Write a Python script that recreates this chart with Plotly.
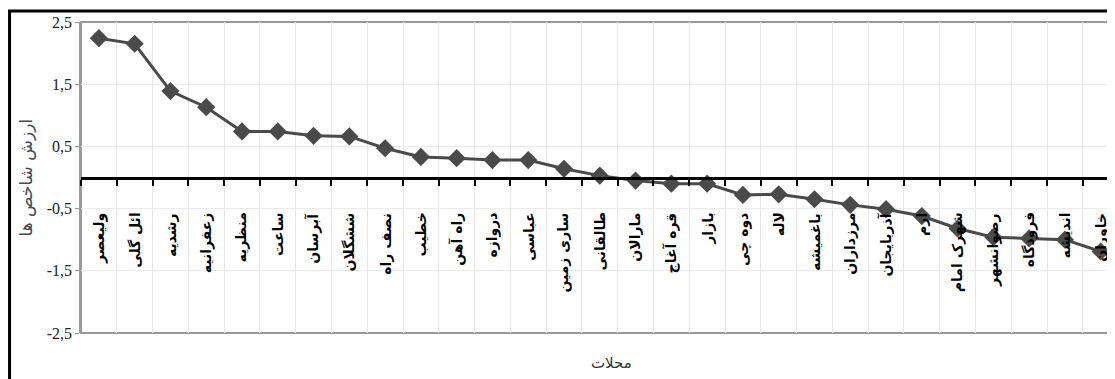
import plotly.graph_objects as go

neighborhoods = ["ولیعصر", "ائل گلی", "رشدیه", "زعفرانیه", "منظریه", "ساعت", "آبرسان", "ششگلان",
                 "نصف راه", "خطیب", "راه آهن", "دروازه", "عباسی", "ساری زمین", "طالقانی", "مارالان",
                 "قره آغاج", "بازار", "دوه چی", "لاله", "باغمیشه", "مرزداران", "آذربایجان", "ارم",
                 "شهرک امام", "رضوانشهر", "فرودگاه", "اندیشه", "خاوران"]
index_values = [2.24, 2.15, 1.39, 1.13, 0.74, 0.74, 0.67, 0.66,
                0.47, 0.33, 0.31, 0.28, 0.28, 0.14, 0.03, -0.05,
                -0.10, -0.10, -0.28, -0.27, -0.35, -0.44, -0.51, -0.62,
                -0.82, -0.96, -0.98, -1.00, -1.19]
y_tick_values = [2.5, 1.5, 0.5, -0.5, -1.5, -2.5]
y_tick_labels = ["2,5", "1,5", "0,5", "-0,5", "-1,5", "-2,5"]
x_title = "محلات"
y_title = "ارزش شاخص ها"

fig = go.Figure()
fig.add_trace(go.Scatter(
    x=neighborhoods, y=index_values, mode="lines+markers",
    line=dict(color="#4a4a4a", width=3),
    marker=dict(symbol="diamond", size=14, color="#4a4a4a"),
    hoverinfo="x+y", showlegend=False,
))

for name in neighborhoods:
    fig.add_annotation(
        x=name, y=-0.5, xref="x", yref="y", text=name, textangle=-90,
        yanchor="top", xanchor="center", yshift=-2, showarrow=False,
        font=dict(family="DejaVu Sans", size=14, color="black", weight="bold"),
    )

fig.add_annotation(xref="paper", yref="paper", x=0, y=0.5, xshift=-56, yshift=0,
                   xanchor="center", yanchor="middle", text=y_title,
                   textangle=-90, showarrow=False,
                   font=dict(family="DejaVu Sans", size=17, color="#404a55"))
fig.add_annotation(xref="paper", yref="paper", x=0.5, y=0, yshift=-30, xshift=13,
                   xanchor="center", yanchor="middle", text=x_title,
                   showarrow=False, font=dict(family="DejaVu Sans", size=15, color="#333333"))

# plot frame (gray) and outer black frame
fig.add_shape(type="rect", xref="paper", yref="paper", x0=0, y0=0, x1=1.2, y1=1,
              line=dict(color="#9a9a9a", width=2), layer="below")
fig.add_shape(type="rect", xref="paper", yref="paper", x0=-0.0691, y0=-0.5, x1=1.2, y1=1.0354,
              line=dict(color="black", width=3))

fig.update_layout(
    width=1107, height=371,
    margin=dict(l=73, r=0, t=14, b=46),
    paper_bgcolor="white", plot_bgcolor="white",
    xaxis=dict(
        type="category", categoryorder="array", categoryarray=neighborhoods,
        range=[-0.5, 28.4], tickson="boundaries",
        showgrid=True, gridcolor="#e8e8e8", gridwidth=1,
        anchor="free", position=0.5,
        showline=True, linecolor="black", linewidth=3,
        ticks="outside", ticklen=6, tickwidth=2, tickcolor="black",
        showticklabels=False, zeroline=False,
    ),
    yaxis=dict(
        range=[-2.5, 2.5], tickvals=y_tick_values, ticktext=y_tick_labels,
        showgrid=True, gridcolor="#ebebeb", gridwidth=1, zeroline=False,
        showline=True, linecolor="#9a9a9a", linewidth=1.5,
        ticks="outside", ticklen=4, tickcolor="#9a9a9a",
        tickfont=dict(family="Liberation Serif", size=16, color="#222222"),
    ),
)

fig.write_html("out.html")
